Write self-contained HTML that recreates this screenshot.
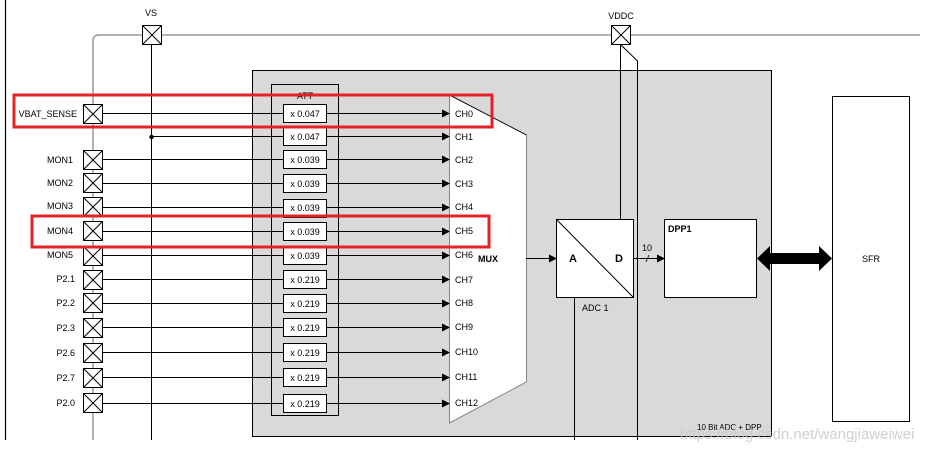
<!DOCTYPE html>
<html><head><meta charset="utf-8"><style>
html,body{margin:0;padding:0;background:#fff}
svg{display:block;font-family:"Liberation Sans",Arial,sans-serif}
</style></head><body>
<svg width="940" height="451" viewBox="0 0 940 451" xmlns="http://www.w3.org/2000/svg">
<defs>
<marker id="ar" markerWidth="8" markerHeight="8" refX="7" refY="4" orient="auto" markerUnits="userSpaceOnUse"><path d="M0,0 L8,4 L0,8z" fill="#000"/></marker>
</defs>
<!-- left border -->
<line x1="5.5" y1="0" x2="5.5" y2="440" stroke="#000" stroke-width="1.2"/>
<!-- gray supply -->
<path d="M93,440 V41 Q93,35 99,35 H920" fill="none" stroke="#999" stroke-width="1.5"/>
<!-- gray block -->
<rect x="252.5" y="70.5" width="519" height="366" fill="#d9d9d9" stroke="#000"/>
<rect x="271.5" y="84.5" width="67" height="331" fill="none" stroke="#000"/>
<text x="305" y="99" font-size="9" text-anchor="middle">ATT</text>
<!-- VS -->
<line x1="151.5" y1="45" x2="151.5" y2="440" stroke="#000"/>
<circle cx="151.5" cy="137" r="2.2" fill="#000"/>
<text x="151" y="16" font-size="9" text-anchor="middle">VS</text>
<g stroke="#000" fill="#fff"><rect x="142.5" y="25.5" width="19" height="19"/><path d="M142.5,25.5 L161.5,44.5 M161.5,25.5 L142.5,44.5" fill="none"/></g>
<!-- VDDC -->
<text x="621" y="19" font-size="9" text-anchor="middle">VDDC</text>
<line x1="620.5" y1="44" x2="620.5" y2="219" stroke="#000"/>
<path d="M621,45 L637.5,61 V440" fill="none" stroke="#000"/>
<g stroke="#000" fill="#fff"><rect x="611.5" y="25.5" width="19" height="19"/><path d="M611.5,25.5 L630.5,44.5 M630.5,25.5 L611.5,44.5" fill="none"/></g>
<!-- MUX -->
<path d="M449.5,95 L526.5,135 V382 L449.5,423 Z" fill="#fff" stroke="#888" stroke-width="1"/>
<line x1="449.5" y1="95" x2="526.5" y2="135" stroke="#000" stroke-width="0.8"/>
<text x="478" y="262" font-size="9" font-weight="bold">MUX</text>
<line x1="526" y1="258.5" x2="556" y2="258.5" stroke="#000" marker-end="url(#ar)"/>
<!-- rows -->
<g font-size="9" stroke-width="1">
<g id="rows"></g>
</g>
<g font-size="9">
<!-- generated rows -->
<line x1="103" y1="113.5" x2="449" y2="113.5" stroke="#000" marker-end="url(#ar)"/>
<line x1="151" y1="136.5" x2="449" y2="136.5" stroke="#000" marker-end="url(#ar)"/>
<line x1="103" y1="159.5" x2="449" y2="159.5" stroke="#000" marker-end="url(#ar)"/>
<line x1="103" y1="183.5" x2="449" y2="183.5" stroke="#000" marker-end="url(#ar)"/>
<line x1="103" y1="207.5" x2="449" y2="207.5" stroke="#000" marker-end="url(#ar)"/>
<line x1="103" y1="231.5" x2="449" y2="231.5" stroke="#000" marker-end="url(#ar)"/>
<line x1="103" y1="255.5" x2="449" y2="255.5" stroke="#000" marker-end="url(#ar)"/>
<line x1="103" y1="279.5" x2="449" y2="279.5" stroke="#000" marker-end="url(#ar)"/>
<line x1="103" y1="303.5" x2="449" y2="303.5" stroke="#000" marker-end="url(#ar)"/>
<line x1="103" y1="327.5" x2="449" y2="327.5" stroke="#000" marker-end="url(#ar)"/>
<line x1="103" y1="352.5" x2="449" y2="352.5" stroke="#000" marker-end="url(#ar)"/>
<line x1="103" y1="377.5" x2="449" y2="377.5" stroke="#000" marker-end="url(#ar)"/>
<line x1="103" y1="403.5" x2="449" y2="403.5" stroke="#000" marker-end="url(#ar)"/>
<g fill="#fff" stroke="#000">
<rect x="283.5" y="104.5" width="43" height="18"/><rect x="283.5" y="127.5" width="43" height="18"/>
<rect x="283.5" y="150.5" width="43" height="18"/><rect x="283.5" y="174.5" width="43" height="18"/>
<rect x="283.5" y="199.5" width="43" height="18"/><rect x="283.5" y="222.5" width="43" height="18"/>
<rect x="283.5" y="246.5" width="43" height="18"/><rect x="283.5" y="270.5" width="43" height="18"/>
<rect x="283.5" y="294.5" width="43" height="18"/><rect x="283.5" y="318.5" width="43" height="18"/>
<rect x="283.5" y="343.5" width="43" height="18"/><rect x="283.5" y="368.5" width="43" height="18"/>
<rect x="283.5" y="394.5" width="43" height="18"/>
</g>
<g text-anchor="middle">
<text x="305" y="117">x 0.047</text><text x="305" y="140">x 0.047</text>
<text x="305" y="163">x 0.039</text><text x="305" y="187">x 0.039</text>
<text x="305" y="211">x 0.039</text><text x="305" y="235">x 0.039</text>
<text x="305" y="259">x 0.039</text><text x="305" y="283">x 0.219</text>
<text x="305" y="307">x 0.219</text><text x="305" y="331">x 0.219</text>
<text x="305" y="356">x 0.219</text><text x="305" y="381">x 0.219</text>
<text x="305" y="407">x 0.219</text>
</g>
<g>
<text x="455" y="117">CH0</text><text x="455" y="140">CH1</text><text x="455" y="163">CH2</text>
<text x="455" y="187">CH3</text><text x="455" y="210">CH4</text><text x="455" y="234">CH5</text>
<text x="455" y="258">CH6</text><text x="455" y="283">CH7</text><text x="455" y="306">CH8</text>
<text x="455" y="330">CH9</text><text x="455" y="355">CH10</text><text x="455" y="380">CH11</text>
<text x="455" y="406">CH12</text>
</g>
<g text-anchor="end">
<text x="77" y="117">VBAT_SENSE</text><text x="73" y="163">MON1</text><text x="73" y="186">MON2</text>
<text x="73" y="209">MON3</text><text x="73" y="234">MON4</text><text x="73" y="258">MON5</text>
<text x="75" y="282">P2.1</text><text x="75" y="306">P2.2</text><text x="75" y="331">P2.3</text>
<text x="75" y="356">P2.6</text><text x="75" y="381">P2.7</text><text x="75" y="406">P2.0</text>
</g>
<g stroke="#000" fill="#fff">
<g><rect x="83.5" y="104.5" width="19" height="19"/><path d="M83.5,104.5 l19,19 m0,-19 l-19,19"/></g>
<g><rect x="83.5" y="150.5" width="19" height="19"/><path d="M83.5,150.5 l19,19 m0,-19 l-19,19"/></g>
<g><rect x="83.5" y="173.5" width="19" height="19"/><path d="M83.5,173.5 l19,19 m0,-19 l-19,19"/></g>
<g><rect x="83.5" y="197.5" width="19" height="19"/><path d="M83.5,197.5 l19,19 m0,-19 l-19,19"/></g>
<g><rect x="83.5" y="221.5" width="19" height="19"/><path d="M83.5,221.5 l19,19 m0,-19 l-19,19"/></g>
<g><rect x="83.5" y="246.5" width="19" height="19"/><path d="M83.5,246.5 l19,19 m0,-19 l-19,19"/></g>
<g><rect x="83.5" y="270.5" width="19" height="19"/><path d="M83.5,270.5 l19,19 m0,-19 l-19,19"/></g>
<g><rect x="83.5" y="293.5" width="19" height="19"/><path d="M83.5,293.5 l19,19 m0,-19 l-19,19"/></g>
<g><rect x="83.5" y="318.5" width="19" height="19"/><path d="M83.5,318.5 l19,19 m0,-19 l-19,19"/></g>
<g><rect x="83.5" y="343.5" width="19" height="19"/><path d="M83.5,343.5 l19,19 m0,-19 l-19,19"/></g>
<g><rect x="83.5" y="368.5" width="19" height="19"/><path d="M83.5,368.5 l19,19 m0,-19 l-19,19"/></g>
<g><rect x="83.5" y="393.5" width="19" height="19"/><path d="M83.5,393.5 l19,19 m0,-19 l-19,19"/></g>
</g>
</g>
<!-- ADC -->
<line x1="574.5" y1="297" x2="574.5" y2="440" stroke="#000"/>
<rect x="556.5" y="219.5" width="77" height="78" fill="#fff" stroke="#000"/>
<line x1="556.5" y1="219.5" x2="633.5" y2="297.5" stroke="#000"/>
<text x="569" y="262" font-size="11" font-weight="bold">A</text>
<text x="615" y="262" font-size="11" font-weight="bold">D</text>
<text x="582" y="311" font-size="9">ADC 1</text>
<line x1="633" y1="258.5" x2="664" y2="258.5" stroke="#000" marker-end="url(#ar)"/>
<line x1="646" y1="262" x2="649" y2="255" stroke="#000" stroke-width="0.8"/>
<text x="642" y="251" font-size="9">10</text>
<!-- DPP1 -->
<rect x="664.5" y="219.5" width="92" height="78" fill="#fff" stroke="#000"/>
<text x="668" y="232" font-size="9" font-weight="bold">DPP1</text>
<!-- double arrow -->
<path d="M757,258.5 L770,246 V253 H819 V246 L832,258.5 L819,271 V264 H770 V271 Z" fill="#000"/>
<!-- SFR -->
<rect x="832.5" y="96.5" width="77" height="325" fill="#fff" stroke="#000"/>
<text x="871" y="262" font-size="9" text-anchor="middle">SFR</text>
<text x="697" y="430" font-size="8">10 Bit ADC + DPP</text>
<text x="680" y="439" font-size="15" fill="#c8c8c8" opacity="0.85">https://blog.csdn.net/wangjiaweiwei</text>
<!-- red boxes -->
<rect x="14" y="95" width="478" height="32" fill="none" stroke="#e8202a" stroke-width="3"/>
<rect x="32" y="216" width="457" height="31" fill="none" stroke="#e8202a" stroke-width="3"/>
</svg>
</body></html>
